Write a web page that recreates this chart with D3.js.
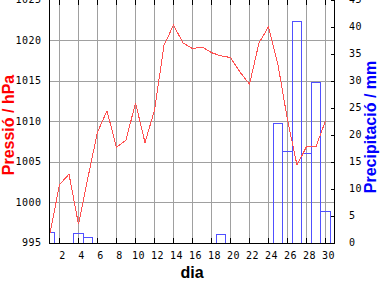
<!DOCTYPE html>
<html>
<head>
<meta charset="utf-8">
<script src="https://cdn.jsdelivr.net/npm/d3@7"></script>
<style>
  body { margin: 0; background: #fff; }
  svg { display: block; }
  .tick text { font-family: "DejaVu Sans Mono", monospace; font-size: 10px; letter-spacing: 0.5px; fill: #000; }
  .lbl { font-family: "Liberation Sans", Arial, sans-serif; font-weight: bold; font-size: 16px; }
</style>
</head>
<body>
<div id="chart"></div>
<script>
// data
const days = [1, 2, 3, 4, 5, 6, 7, 8, 9, 10, 11, 12, 13, 14, 15,
              16, 17, 18, 19, 20, 21, 22, 23, 24, 25, 26, 27, 28, 29, 30];
const pressure = [996.2, 1002.2, 1003.5, 997.3, 1003.1, 1008.7, 1011.3, 1006.8, 1007.7, 1012.3,
                  1007.4, 1011.4, 1019.4, 1021.9, 1019.7, 1019.0, 1019.2, 1018.5, 1018.1, 1017.9,
                  1016.1, 1014.6, 1019.7, 1021.7, 1017.0, 1010.2, 1004.6, 1006.9, 1006.9, 1010.1];
const precip = [2.0, 0, 0, 1.8, 1.0, 0, 0, 0, 0, 0,
                0, 0, 0, 0, 0, 0, 0, 0, 1.6, 0,
                0, 0, 0, 0, 22.2, 17.0, 41.0, 16.6, 29.8, 5.9];

const dayTicks = [2, 4, 6, 8, 10, 12, 14, 16, 18, 20, 22, 24, 26, 28, 30];
const pressureTicks = [995, 1000, 1005, 1010, 1015, 1020, 1025];
const precipTicks = [0, 5, 10, 15, 20, 25, 30, 35, 40, 45];

// sizes
const width = 384, height = 288;
const plotLeft = 49.5, plotRight = 334.5, plotTop = -0.5, plotBottom = 242.5;

const lineColor = "#ff5050",
      barColor = "#5050ff",
      gridColor = "#a0a0a0";

const fmt = d3.format("d");

const x = d3.scaleLinear().domain([1, 31]).range([plotLeft, plotRight]);
const yP = d3.scaleLinear().domain([995, 1025]).range([plotBottom, plotTop]);
const yR = d3.scaleLinear().domain([0, 45]).range([plotBottom, plotTop]);

const svg = d3.select("#chart")
  .append("svg")
  .attr("width", width)
  .attr("height", height);

svg.append("defs").append("clipPath")
    .attr("id", "plot")
  .append("rect")
    .attr("x", plotLeft)
    .attr("y", 0)
    .attr("width", plotRight - plotLeft)
    .attr("height", 243.5);

// horizontal grid + left labels
const gLeft = svg.append("g")
  .attr("transform", `translate(${plotLeft},0)`)
  .call(d3.axisLeft(yP).tickValues(pressureTicks).tickFormat(fmt)
    .tickSize(-(plotRight - plotLeft)).tickPadding(8));
gLeft.select(".domain").remove();
gLeft.selectAll(".tick line")
  .attr("stroke", gridColor)
  .attr("shape-rendering", "crispEdges")
  .filter(d => d == 995 || d == 1025).remove();

// vertical grid + bottom labels
const gBottom = svg.append("g")
  .attr("transform", "translate(0,243)")
  .call(d3.axisBottom(x).tickValues(dayTicks).tickFormat(fmt).tickSize(-243).tickPadding(8.5));
gBottom.select(".domain").remove();
gBottom.selectAll(".tick line")
  .attr("stroke", gridColor)
  .attr("shape-rendering", "crispEdges");
gBottom.selectAll(".tick text").attr("dx", 3);

// precipitation bars
svg.append("g")
  .attr("clip-path", "url(#plot)")
  .selectAll("rect")
  .data(days.map((d, i) => ({day: d, value: precip[i]})).filter(d => d.value > 0))
  .join("rect")
    .attr("x", d => x(d.day - 0.5) + 0.5)
    .attr("y", d => yR(d.value) + 0.5)
    .attr("width", d => x(d.day + 0.5) - x(d.day - 0.5))
    .attr("height", d => yR(0) - yR(d.value))
    .attr("fill", "none")
    .attr("stroke", barColor)
    .attr("shape-rendering", "crispEdges");

// pressure line
const line = d3.line()
  .x((d, i) => x(days[i]) + 0.5)
  .y(d => yP(d) + 0.5);

svg.append("path")
  .datum(pressure)
  .attr("clip-path", "url(#plot)")
  .attr("fill", "none")
  .attr("stroke", lineColor)
  .attr("stroke-width", 1)
  .attr("shape-rendering", "crispEdges")
  .attr("d", line);

// border
svg.append("path")
  .attr("d", `M${plotLeft},0V243.5H${plotRight}V0`)
  .attr("fill", "none")
  .attr("stroke", "#000")
  .attr("shape-rendering", "crispEdges");

// black ticks top / bottom
const gTickB = svg.append("g")
  .attr("transform", "translate(0,243)")
  .call(d3.axisBottom(x).tickValues(dayTicks).tickSize(-5).tickFormat(""));
const gTickT = svg.append("g")
  .attr("transform", "translate(0,0)")
  .call(d3.axisTop(x).tickValues(dayTicks).tickSize(-5).tickFormat(""));
[gTickB, gTickT].forEach(g => {
  g.select(".domain").remove();
  g.selectAll(".tick line").attr("shape-rendering", "crispEdges");
});

// right axis
const gRight = svg.append("g")
  .attr("transform", `translate(${plotRight},0)`)
  .call(d3.axisRight(yR).tickValues(precipTicks).tickFormat(fmt).tickSize(-4).tickPadding(14.5));
gRight.select(".domain").remove();
gRight.selectAll(".tick line").attr("shape-rendering", "crispEdges");

// axis titles
svg.append("text")
  .attr("class", "lbl")
  .attr("transform", "translate(13.5,125) rotate(-90)")
  .attr("text-anchor", "middle")
  .attr("fill", "#ff0000")
  .text("Pressió / hPa");

svg.append("text")
  .attr("class", "lbl")
  .attr("transform", "translate(376,127) rotate(-90)")
  .attr("text-anchor", "middle")
  .attr("fill", "#0000ff")
  .text("Precipitació / mm");

svg.append("text")
  .attr("class", "lbl")
  .attr("x", 192)
  .attr("y", 277.5)
  .attr("text-anchor", "middle")
  .attr("fill", "#000")
  .text("dia");
</script>
</body>
</html>
